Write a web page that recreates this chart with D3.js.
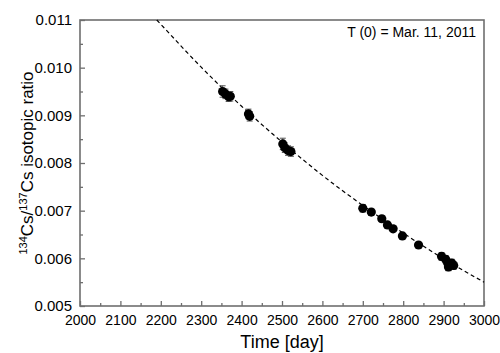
<!DOCTYPE html>
<html>
<head>
<meta charset="utf-8">
<script src="https://cdn.jsdelivr.net/npm/d3@7"></script>
<style>
  body { margin: 0; background: #fff; }
  text { font-family: "Liberation Sans", Arial, sans-serif; fill: #000; }
</style>
</head>
<body>
<div id="chart"></div>
<script>
// measured points (day since T0, ratio, error)
const days = [2353, 2360, 2368, 2372, 2417, 2420, 2502, 2507, 2515, 2522,
  2700, 2721, 2747, 2761, 2775, 2798, 2838,
  2895, 2905, 2910, 2912, 2915, 2920, 2925];
const ratios = [0.00950, 0.00945, 0.00939, 0.00940, 0.00903, 0.00898, 0.00840, 0.00832, 0.00826, 0.00824,
  0.00705, 0.00697, 0.00683, 0.00670, 0.00662, 0.00647, 0.00628,
  0.00604, 0.00598, 0.00590, 0.00582, 0.00586, 0.00590, 0.00585];
const errors = [0.00012, 0.00010, 0.00010, 0.00010, 0.00010, 0.00010, 0.00012, 0.00010, 0.00010, 0.00010,
  0.00008, 0.00006, 0.00006, 0.00005, 0.00005, 0.00004, 0.00004,
  0.00008, 0.00008, 0.00008, 0.00008, 0.00008, 0.00008, 0.00008];

// fitted decay curve
const fitDays = [2190, 2200, 2300, 2400, 2500, 2600, 2700, 2800, 2900, 3000];
const fitRatios = [0.01100, 0.01091, 0.01001, 0.00919, 0.00844, 0.00774, 0.00711, 0.00653, 0.00599, 0.00550];

const xTicks = [2000, 2100, 2200, 2300, 2400, 2500, 2600, 2700, 2800, 2900, 3000];
const yTicks = [0.005, 0.006, 0.007, 0.008, 0.009, 0.010, 0.011];

const dims = { width: 500, height: 353, marginTop: 20, marginRight: 16, marginBottom: 47, marginLeft: 80 };
dims.boundedWidth = dims.width - dims.marginLeft - dims.marginRight;
dims.boundedHeight = dims.height - dims.marginTop - dims.marginBottom;

const wrapper = d3.select("#chart")
  .append("svg")
    .attr("width", dims.width)
    .attr("height", dims.height);

const bounds = wrapper.append("g")
  .attr("transform", `translate(${dims.marginLeft}, ${dims.marginTop})`);

// scales
const xScale = d3.scaleLinear()
  .domain([2000, 3000])
  .range([0, dims.boundedWidth]);

const yScale = d3.scaleLinear()
  .domain([0.005, 0.011])
  .range([dims.boundedHeight, 0]);

const axisColor = "#6e6e6e";

// minor ticks first (inward)
const xMinor = d3.range(2050, 3000, 100);
const yMinor = d3.range(0, 6).map(i => 0.0055 + i * 0.001);

bounds.append("g")
  .attr("transform", `translate(0, ${dims.boundedHeight})`)
  .call(d3.axisBottom(xScale).tickValues(xMinor).tickSize(-3).tickFormat(() => ""))
  .call(g => g.select(".domain").remove())
  .call(g => g.selectAll("line").attr("stroke", axisColor).attr("stroke-width", 1.3));

bounds.append("g")
  .call(d3.axisLeft(yScale).tickValues(yMinor).tickSize(-3).tickFormat(() => ""))
  .call(g => g.select(".domain").remove())
  .call(g => g.selectAll("line").attr("stroke", axisColor).attr("stroke-width", 1.3));

// major axes
const xAxis = bounds.append("g")
  .attr("transform", `translate(0, ${dims.boundedHeight})`)
  .call(d3.axisBottom(xScale).tickValues(xTicks).tickSize(-5).tickPadding(9).tickFormat(d3.format("d")));

const yAxis = bounds.append("g")
  .call(d3.axisLeft(yScale).tickValues(yTicks).tickSize(-5).tickPadding(8).tickFormat(d3.format(".3f")));

[xAxis, yAxis].forEach(a => {
  a.select(".domain").remove();
  a.selectAll("line").attr("stroke", axisColor).attr("stroke-width", 1.3);
  a.selectAll("text").style("font-family", "Liberation Sans, Arial, sans-serif");
});
xAxis.selectAll("text").style("font-size", "14px");
yAxis.selectAll("text").style("font-size", "15px");

// frame
bounds.append("rect")
  .attr("width", dims.boundedWidth)
  .attr("height", dims.boundedHeight)
  .attr("fill", "none")
  .attr("stroke", axisColor)
  .attr("stroke-width", 1.6);

// fit line
const lineGenerator = d3.line()
  .x((d, i) => xScale(fitDays[i]))
  .y(d => yScale(d))
  .curve(d3.curveMonotoneX);

bounds.append("path")
  .attr("d", lineGenerator(fitRatios))
  .attr("fill", "none")
  .attr("stroke", "#000")
  .attr("stroke-width", 1.2)
  .attr("stroke-dasharray", "4,3");

// error bars
const errG = bounds.append("g")
  .attr("stroke", "#555")
  .attr("stroke-width", 1);

days.forEach((d, i) => {
  const x = xScale(d);
  const y1 = yScale(ratios[i] - errors[i]);
  const y2 = yScale(ratios[i] + errors[i]);
  errG.append("line").attr("x1", x).attr("x2", x).attr("y1", y1).attr("y2", y2);
  errG.append("line").attr("x1", x - 3).attr("x2", x + 3).attr("y1", y1).attr("y2", y1);
  errG.append("line").attr("x1", x - 3).attr("x2", x + 3).attr("y1", y2).attr("y2", y2);
});

// points
bounds.append("g")
  .selectAll("circle")
  .data(days)
  .join("circle")
    .attr("cx", d => xScale(d))
    .attr("cy", (d, i) => yScale(ratios[i]))
    .attr("r", 4.6)
    .attr("fill", "#000");

// annotation
bounds.append("text")
  .attr("x", dims.boundedWidth - 8)
  .attr("y", 17)
  .attr("text-anchor", "end")
  .style("font-size", "14px")
  .text("T (0) = Mar. 11, 2011");

// axis titles
wrapper.append("text")
  .attr("x", dims.marginLeft + dims.boundedWidth / 2)
  .attr("y", 348)
  .attr("text-anchor", "middle")
  .style("font-size", "18px")
  .text("Time [day]");

const yTitle = wrapper.append("text")
  .attr("transform", `translate(33, ${dims.marginTop + dims.boundedHeight / 2}) rotate(-90)`)
  .attr("text-anchor", "middle")
  .style("font-size", "17px");

yTitle.append("tspan").attr("baseline-shift", "super").style("font-size", "11px").text("134");
yTitle.append("tspan").text("Cs/");
yTitle.append("tspan").attr("baseline-shift", "super").style("font-size", "11px").text("137");
yTitle.append("tspan").text("Cs isotopic ratio");
</script>
</body>
</html>
